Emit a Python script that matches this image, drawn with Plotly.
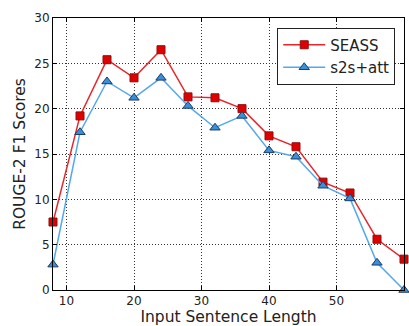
import plotly.graph_objects as go

lengths = [8, 12, 16, 20, 24, 28, 32, 36, 40, 44, 48, 52, 56, 60]
seass = [7.5, 19.2, 25.4, 23.4, 26.5, 21.3, 21.2, 20.0, 17.0, 15.8, 11.9, 10.7, 5.6, 3.4]
s2s_att = [2.8, 17.4, 23.0, 21.2, 23.4, 20.3, 17.9, 19.2, 15.4, 14.7, 11.5, 10.1, 3.0, 0.0]

fig = go.Figure()
fig.add_trace(go.Scatter(
    x=lengths, y=seass, name="SEASS", mode="lines+markers",
    line=dict(color="#e8262a", width=1.5),
    marker=dict(symbol="square", size=8, color="#e00000", line=dict(color="#8b1010", width=1)),
    cliponaxis=False,
))
fig.add_trace(go.Scatter(
    x=lengths, y=s2s_att, name="s2s+att", mode="lines+markers",
    line=dict(color="#55a8ec", width=1.5),
    marker=dict(symbol="triangle-up", size=9, color="#3a8fd8", line=dict(color="#1a3d66", width=1)),
    cliponaxis=False,
))

axis_common = dict(
    showline=True, linecolor="black", linewidth=1, mirror="allticks",
    ticks="inside", ticklen=4, tickcolor="black",
    showgrid=True, gridcolor="#333333", griddash="1px,2px", gridwidth=1,
    zeroline=False, tickfont=dict(family="DejaVu Sans", size=12, color="#222"),
)

fig.update_layout(
    width=409, height=326,
    margin=dict(l=53, r=5, t=18, b=36),
    paper_bgcolor="white", plot_bgcolor="white",
    xaxis=dict(range=[8, 60], tickvals=[10, 20, 30, 40, 50, 60],
               title=dict(text="Input Sentence Length", font=dict(family="DejaVu Sans", size=15.5, color="#222"), standoff=1),
               **axis_common),
    yaxis=dict(range=[0, 30], tickvals=[0, 5, 10, 15, 20, 25, 30],
               title=dict(text="ROUGE-2 F1 Scores", font=dict(family="DejaVu Sans", size=15.5, color="#222"), standoff=4),
               **axis_common),
    legend=dict(x=0.975, y=0.965, xanchor="right", yanchor="top",
                bordercolor="#222", borderwidth=1, bgcolor="white",
                font=dict(family="DejaVu Sans", size=15, color="#222"),
                tracegroupgap=0, itemwidth=42),
    showlegend=True,
)

fig.write_html("out.html")
